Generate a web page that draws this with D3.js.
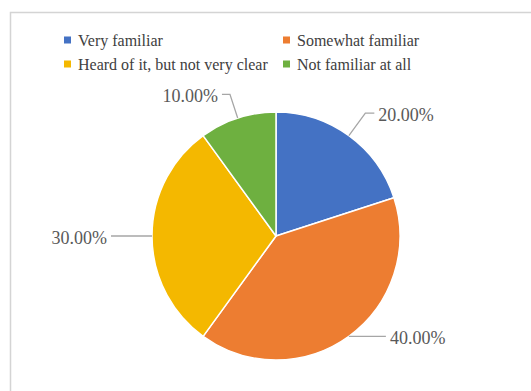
<!DOCTYPE html>
<html>
<head>
<meta charset="utf-8">
<script src="https://cdn.jsdelivr.net/npm/d3@7/dist/d3.min.js"></script>
<style>
  html, body { margin: 0; padding: 0; background: #fff; }
  svg { display: block; }
  svg text { font-family: "Times New Roman", Times, "Liberation Serif", "DejaVu Serif", serif; }
</style>
</head>
<body>
<svg id="chart" width="531" height="391"></svg>
<script>
// Survey responses: familiarity with the topic
const categories = ["Very familiar", "Somewhat familiar", "Heard of it, but not very clear", "Not familiar at all"];
const shares = [20, 40, 30, 10];
const valueLabels = ["20.00%", "40.00%", "30.00%", "10.00%"];
const colors = ["#4472C4", "#ED7D31", "#F4B800", "#6EB040"];

// Leader-line layout for each label: outward extension past the rim, then horizontal run
const leaderLayout = [
  { ext: 28, run: 9 },
  { ext: 0, run: 37 },
  { ext: 0, run: 41 },
  { ext: 25, run: 8 }
];

const svg = d3.select("#chart");
const W = 531, H = 391;
const cx = 276, cy = 236, R = 124;

// chart frame (continues past the right and bottom edges)
svg.append("rect")
  .attr("x", 10.5).attr("y", 12.5)
  .attr("width", W + 20).attr("height", H + 20)
  .attr("fill", "#fff")
  .attr("stroke", "#d4d4d4")
  .attr("stroke-width", 1.5);

// legend
const legendPos = [[64, 40], [283, 40], [64, 64], [283, 64]];
const legend = svg.append("g");
categories.forEach((c, i) => {
  const [lx, ly] = legendPos[i];
  legend.append("rect")
    .attr("x", lx).attr("y", ly - 3.5)
    .attr("width", 7).attr("height", 7)
    .attr("fill", colors[i]);
  legend.append("text")
    .attr("x", lx + 14).attr("y", ly)
    .attr("dominant-baseline", "central")
    .style("font-size", "16px")
    .attr("fill", "#404040")
    .text(c);
});

// pie
const pie = d3.pie().sort(null).value(d => d)(shares);
const arc = d3.arc().innerRadius(0).outerRadius(R);
const g = svg.append("g").attr("transform", `translate(${cx},${cy})`);

g.selectAll("path.slice")
  .data(pie)
  .join("path")
  .attr("class", "slice")
  .attr("d", arc)
  .attr("fill", (d, i) => colors[i])
  .attr("stroke", "#fff")
  .attr("stroke-width", 1.5)
  .attr("stroke-linejoin", "round");

// data labels with leader lines
pie.forEach((d, i) => {
  const a = (d.startAngle + d.endAngle) / 2;
  const sx = Math.sin(a), sy = -Math.cos(a);
  const p0 = [R * sx, R * sy];
  const lay = leaderLayout[i];
  const p1 = [(R + lay.ext) * sx, (R + lay.ext) * sy];
  const dir = sx >= 0 ? 1 : -1;
  const p2 = [p1[0] + dir * lay.run, p1[1]];
  g.append("path")
    .attr("d", d3.line()([p0, p1, p2]))
    .attr("fill", "none")
    .attr("stroke", "#a6a6a6")
    .attr("stroke-width", 1.3);
  g.append("text")
    .attr("x", p2[0] + dir * 4)
    .attr("y", p2[1] + 2)
    .attr("text-anchor", dir > 0 ? "start" : "end")
    .attr("dominant-baseline", "central")
    .style("font-size", "18px")
    .attr("fill", "#595959")
    .text(valueLabels[i]);
});
</script>
</body>
</html>
